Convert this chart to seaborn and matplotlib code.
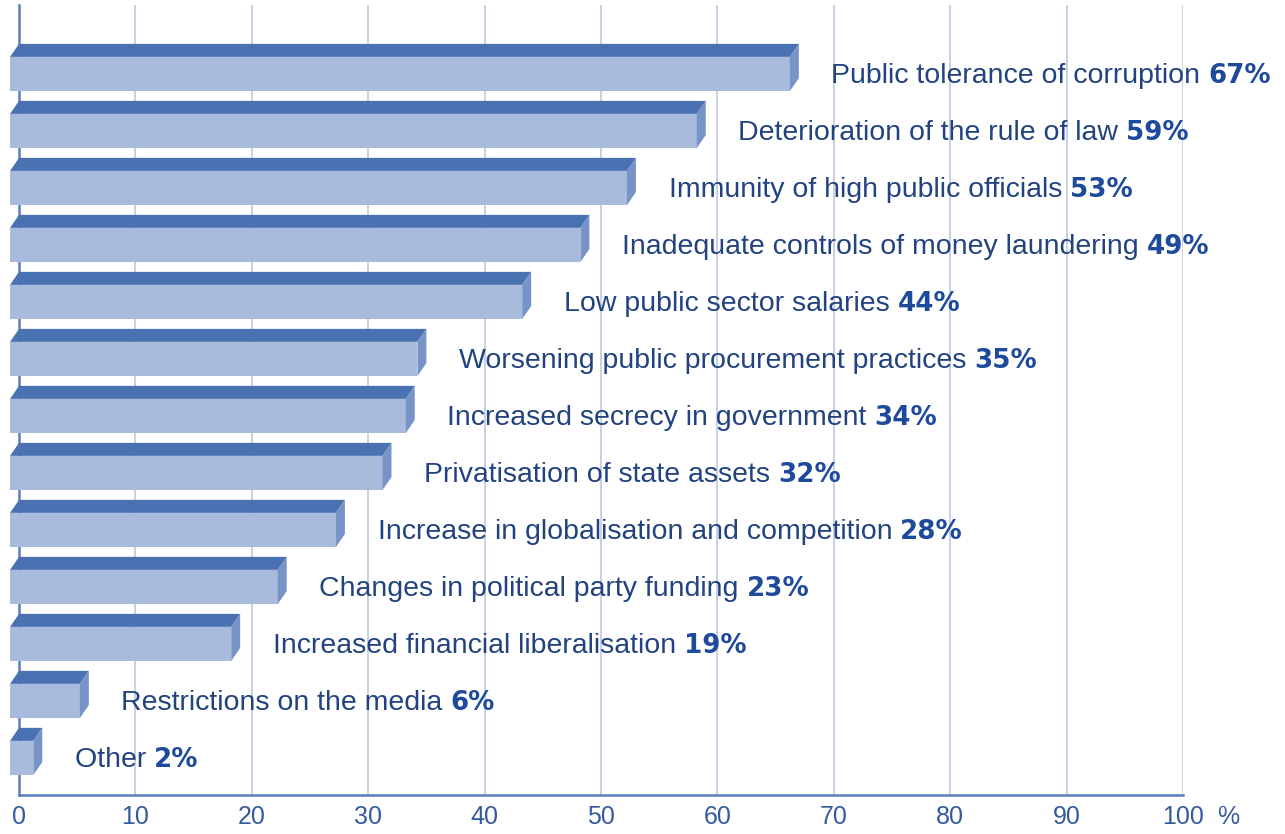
import numpy as np
import pandas as pd
import matplotlib
matplotlib.use("Agg")
import matplotlib.pyplot as plt
from matplotlib.patches import Polygon
from matplotlib import font_manager, transforms
import seaborn as sns

# Survey responses: factors contributing to increased corruption (% of respondents)
factors = [
    "Public tolerance of corruption",
    "Deterioration of the rule of law",
    "Immunity of high public officials",
    "Inadequate controls of money laundering",
    "Low public sector salaries",
    "Worsening public procurement practices",
    "Increased secrecy in government",
    "Privatisation of state assets",
    "Increase in globalisation and competition",
    "Changes in political party funding",
    "Increased financial liberalisation",
    "Restrictions on the media",
    "Other",
]
shares = [67, 59, 53, 49, 44, 35, 34, 32, 28, 23, 19, 6, 2]
x_ticks = [0, 10, 20, 30, 40, 50, 60, 70, 80, 90, 100]
x_tick_labels = ["0", "10", "20", "30", "40", "50", "60", "70", "80", "90", "100"]

df = pd.DataFrame({"factor": factors, "share": shares})

# palette
FRONT = "#A9BBDC"
TOP = "#4A72B2"
SIDE = "#7893C7"
GRID = "#C8D0E2"
AXIS = "#5A7DBE"
TEXT = "#22437F"
PCT = "#1D4A9A"
TICK = "#355A9E"

sns.set_style("white")
names = {f.name for f in font_manager.fontManager.ttflist}
base_font = "Liberation Sans" if "Liberation Sans" in names else "DejaVu Sans"
plt.rcParams["font.family"] = [base_font, "DejaVu Sans"]

# narrower face for the axis numbers when available
if "Liberation Sans Narrow" in names:
    tick_font, tick_size = "Liberation Sans Narrow", 20
else:
    tick_font, tick_size = base_font, 18

fig = plt.figure(figsize=(12.85, 8.34), dpi=100)
ax = fig.add_axes([19 / 1285, 39 / 834, 1164 / 1285, 790 / 834])

bar_h = 0.6
sns.barplot(data=df, x="share", y="factor", orient="h", width=bar_h,
            color=FRONT, saturation=1, edgecolor="none", linewidth=0, ax=ax)

ax.set_xlim(0, 100)
ax.set_ylim(12.65, -1.21)

# pseudo-3D depth of each bar
dx, dy = 0.77, 0.228
for p in list(ax.patches):
    p.set_x(p.get_x() - dx)
    p.set_zorder(3)
    p.set_clip_on(False)
    x0, y0 = p.get_x(), p.get_y()
    w, h = p.get_width(), p.get_height()
    top = Polygon([(x0, y0), (x0 + w, y0), (x0 + w + dx, y0 - dy), (x0 + dx, y0 - dy)],
                  closed=True, facecolor=TOP, edgecolor="none", zorder=3, clip_on=False)
    side = Polygon([(x0 + w, y0), (x0 + w + dx, y0 - dy), (x0 + w + dx, y0 + h - dy), (x0 + w, y0 + h)],
                   closed=True, facecolor=SIDE, edgecolor="none", zorder=3, clip_on=False)
    ax.add_patch(top)
    ax.add_patch(side)

# axes styling
ax.set_xticks(x_ticks)
ax.set_xticklabels(x_tick_labels, fontsize=tick_size, family=[tick_font, "DejaVu Sans"],
                   color=TICK, va="top")
ax.set_yticks([])
ax.set_xlabel("")
ax.set_ylabel("")
ax.tick_params(axis="x", length=0, pad=7)
ax.grid(axis="x", color=GRID, linewidth=1.4, zorder=0)
ax.set_axisbelow(True)
for s in ["top", "right"]:
    ax.spines[s].set_visible(False)
for s in ["left", "bottom"]:
    ax.spines[s].set_color(AXIS)
    ax.spines[s].set_linewidth(1.8)
    ax.spines[s].set_zorder(2.5)

# unit sign next to the last tick label
ax.annotate("%", xy=(103.9, 0),
            xycoords=transforms.blended_transform_factory(ax.transData, ax.transAxes),
            xytext=(0, -7), textcoords="offset points",
            ha="center", va="top", fontsize=tick_size, family=[tick_font, "DejaVu Sans"],
            color=TICK, annotation_clip=False)

# category labels with bold percentages
gap = 2.8
label_texts = []
for i, (name, val) in enumerate(zip(factors, shares)):
    t = ax.text(val + gap, i + 0.16, name + " ", ha="left", va="baseline",
                fontsize=20.5, color=TEXT, zorder=4, clip_on=False)
    label_texts.append(t)

fig.canvas.draw()
renderer = fig.canvas.get_renderer()
inv = ax.transData.inverted()
for i, (t, val) in enumerate(zip(label_texts, shares)):
    bb = t.get_window_extent(renderer)
    x_end = inv.transform((bb.x1, bb.y0))[0]
    ax.text(x_end, i + 0.16, f"{val}%", ha="left", va="baseline",
            fontsize=18.8, fontweight="bold", family="DejaVu Sans",
            color=PCT, zorder=4, clip_on=False)

fig.savefig("out.png", dpi=100)
